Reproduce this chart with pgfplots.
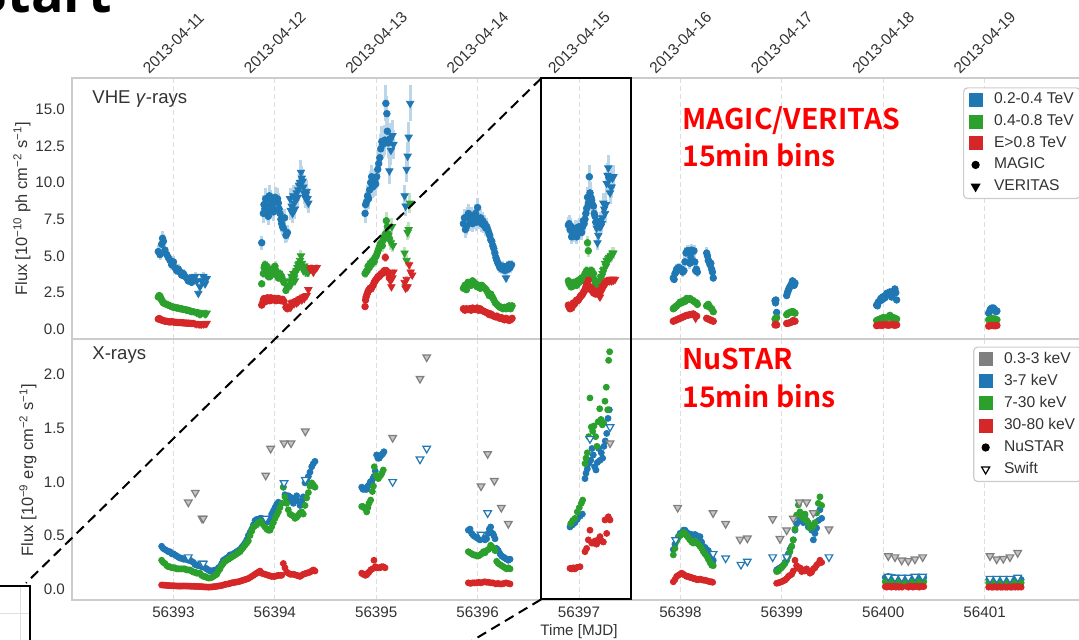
\documentclass[border=0pt]{standalone}
\usepackage{fontspec}
\setmainfont{Liberation Sans}
\newfontfamily\annfont{Noto Sans CJK SC Bold}
\newfontfamily\headfont{Open Sans}
\usepackage{pgfplots}
\usepackage{pgfplotstable}
\pgfplotsset{compat=1.18}

\definecolor{tabblue}{HTML}{1F77B4}
\definecolor{tabgreen}{HTML}{2CA02C}
\definecolor{tabred}{HTML}{D62728}
\definecolor{tabgray}{HTML}{7F7F7F}
\definecolor{framegray}{HTML}{CCCCCC}
\definecolor{txt}{HTML}{333333}
\definecolor{gridgray}{HTML}{DDDDDD}

\newcommand\tickfont{\fontsize{7.6}{9}\selectfont}
\newcommand\legfont{\fontsize{7.8}{9}\selectfont}
\newcommand\yfont{\fontsize{8.2}{10}\selectfont}

% ---------------- VHE gamma rays: MAGIC (circles) ----------------
\pgfplotstableread{
x y
56392.851 5.3
56392.868 5.1
56392.884 5.8
56392.893 6.2
56392.901 6.0
56392.917 5.4
56392.934 5.1
56392.950 4.9
56392.966 4.7
56392.983 4.4
56393.000 4.6
56393.016 4.2
56393.032 4.0
56393.049 4.1
56393.065 3.9
56393.082 3.7
56393.098 3.8
56393.115 3.6
56393.131 3.5
56393.147 3.3
56393.164 3.5
56393.180 3.2
56393.197 3.45
56393.871 5.9
56393.887 7.9
56393.893 8.5
56393.902 8.2
56393.910 8.9
56393.920 8.4
56393.928 8.0
56393.936 7.7
56393.946 9.1
56393.955 8.8
56393.969 8.6
56393.978 8.3
56393.986 8.0
56394.002 9.0
56394.010 8.7
56394.018 8.7
56394.027 8.9
56394.035 8.6
56394.043 8.2
56394.051 7.9
56394.060 7.5
56394.068 7.2
56394.076 7.0
56394.084 6.9
56394.097 7.6
56394.110 6.4
56394.117 6.5
56394.124 6.6
56394.890 7.9
56394.895 8.5
56394.905 8.7
56394.915 9.1
56394.925 8.9
56394.935 9.5
56394.945 10.0
56394.955 10.4
56394.965 9.7
56394.975 9.8
56394.985 10.1
56394.995 9.9
56395.005 10.4
56395.015 10.9
56395.025 11.3
56395.035 11.7
56395.045 12.3
56395.055 12.8
56395.065 12.6
56395.075 12.8
56395.085 12.9
56395.095 15.4
56395.105 14.7
56395.110 13.5
56395.118 12.7
56395.125 12.9
56395.138 13.0
56395.860 7.2
56395.870 7.6
56395.880 6.8
56395.890 7.0
56395.900 7.7
56395.910 7.9
56395.920 7.5
56395.930 7.3
56395.940 7.7
56395.950 7.2
56395.960 7.6
56395.970 7.4
56395.980 7.9
56395.990 7.3
56396.000 8.3
56396.010 7.5
56396.020 7.4
56396.030 7.6
56396.040 7.2
56396.050 7.4
56396.060 7.1
56396.070 7.2
56396.080 6.9
56396.090 7.0
56396.100 6.8
56396.110 6.6
56396.120 6.4
56396.130 6.1
56396.140 6.0
56396.150 5.7
56396.160 5.5
56396.170 5.2
56396.180 4.9
56396.190 4.7
56396.200 4.5
56396.210 4.4
56396.220 4.2
56396.230 4.3
56396.240 4.1
56396.250 4.3
56396.260 4.2
56396.270 4.0
56396.290 4.3
56396.300 4.1
56396.310 4.4
56396.320 4.2
56396.335 4.4
56396.895 7.1
56396.903 7.2
56396.911 6.8
56396.920 7.0
56396.928 6.3
56396.936 6.5
56396.944 6.5
56396.952 6.7
56396.961 6.6
56396.969 6.9
56396.977 6.3
56396.985 6.6
56396.994 6.9
56397.002 7.0
56397.010 6.7
56397.018 6.6
56397.026 6.6
56397.035 7.0
56397.043 7.4
56397.051 7.2
56397.059 7.5
56397.068 7.9
56397.076 8.25
56397.084 9.0
56397.092 8.6
56397.102 10.4
56397.109 9.3
56397.117 9.0
56397.125 8.8
56397.133 8.5
56397.142 8.4
56397.150 7.9
56397.158 7.7
56397.165 7.3
56397.930 3.5
56397.938 3.4
56397.946 3.8
56397.955 3.9
56397.963 4.1
56397.979 4.2
56397.989 4.2
56398.000 4.1
56398.012 4.1
56398.023 3.9
56398.035 4.0
56398.045 4.6
56398.055 5.2
56398.067 5.35
56398.078 5.35
56398.086 5.3
56398.094 4.5
56398.103 4.9
56398.111 5.4
56398.122 5.3
56398.134 5.35
56398.142 4.6
56398.150 4.0
56398.158 4.1
56398.167 3.9
56398.259 5.2
56398.267 5.0
56398.275 4.7
56398.283 4.6
56398.292 4.4
56398.300 4.5
56398.308 4.1
56398.316 3.9
56398.324 3.5
56398.933 1.95
56398.938 1.8
56398.942 2.0
56398.949 1.15
56399.048 2.3
56399.056 2.5
56399.064 2.65
56399.072 2.8
56399.081 2.9
56399.089 3.0
56399.097 3.1
56399.105 3.3
56399.113 3.25
56399.122 3.0
56399.130 3.15
56399.935 1.65
56399.943 1.6
56399.951 1.85
56399.960 1.9
56399.968 1.95
56399.976 2.1
56399.985 2.0
56399.994 2.2
56400.002 2.1
56400.010 2.25
56400.017 2.15
56400.026 2.3
56400.034 2.45
56400.042 2.35
56400.050 2.4
56400.058 2.5
56400.066 2.55
56400.075 2.4
56400.083 2.2
56400.091 2.35
56400.099 2.45
56400.107 2.6
56400.115 2.75
56400.124 2.5
56400.132 2.0
56401.040 1.1
56401.048 1.2
56401.056 1.35
56401.064 1.4
56401.072 1.45
56401.080 1.4
56401.088 1.45
56401.096 1.35
56401.105 1.3
56401.113 1.2
56401.121 1.25
}\vheBM

\pgfplotstableread{
x y
56392.851 2.2
56392.860 2.3
56392.868 2.25
56392.876 2.1
56392.884 2.0
56392.893 1.9
56392.901 1.8
56392.917 1.75
56392.934 1.7
56392.950 1.65
56392.966 1.6
56392.983 1.55
56393.000 1.5
56393.016 1.5
56393.032 1.45
56393.049 1.45
56393.065 1.4
56393.082 1.4
56393.098 1.35
56393.115 1.35
56393.131 1.3
56393.147 1.3
56393.164 1.25
56393.180 1.2
56393.197 1.2
56393.871 3.1
56393.887 3.8
56393.895 4.2
56393.903 4.4
56393.912 4.0
56393.920 4.3
56393.928 3.8
56393.936 3.6
56393.944 3.9
56393.952 3.6
56393.961 4.0
56393.969 4.1
56393.977 3.9
56393.986 3.8
56393.994 4.0
56394.002 4.3
56394.010 4.0
56394.018 3.7
56394.027 3.8
56394.035 3.5
56394.043 3.6
56394.051 3.8
56394.060 3.5
56394.068 3.6
56394.076 3.4
56394.090 3.2
56394.110 2.65
56394.124 2.9
56394.890 3.8
56394.900 3.9
56394.910 4.0
56394.920 4.3
56394.930 4.2
56394.940 4.5
56394.950 4.4
56394.960 4.6
56394.970 4.7
56394.980 4.6
56394.990 4.9
56395.000 5.0
56395.010 5.2
56395.020 5.4
56395.030 5.6
56395.040 5.8
56395.050 5.9
56395.060 5.7
56395.070 6.1
56395.080 6.3
56395.090 6.5
56395.100 7.4
56395.110 7.0
56395.120 6.5
56395.130 6.2
56395.860 2.8
56395.875 3.0
56395.890 2.7
56395.905 3.2
56395.920 3.1
56395.935 3.0
56395.950 3.3
56395.965 3.2
56395.980 3.1
56395.995 2.9
56396.010 3.0
56396.025 2.8
56396.040 3.0
56396.055 2.9
56396.070 2.8
56396.085 2.7
56396.100 2.5
56396.115 2.3
56396.130 2.4
56396.145 2.2
56396.160 2.0
56396.175 1.8
56396.190 1.7
56396.205 1.6
56396.220 1.5
56396.235 1.5
56396.250 1.4
56396.265 1.5
56396.280 1.4
56396.295 1.5
56396.310 1.6
56396.325 1.4
56396.340 1.6
56396.895 3.3
56396.903 3.1
56396.911 3.15
56396.920 2.9
56396.928 2.9
56396.936 3.1
56396.944 3.2
56396.952 3.0
56396.961 3.2
56396.969 3.1
56396.977 3.0
56396.985 3.3
56396.994 3.3
56397.002 3.2
56397.010 3.4
56397.018 3.3
56397.026 3.5
56397.035 3.4
56397.043 3.5
56397.051 3.6
56397.059 3.8
56397.068 3.7
56397.076 4.0
56397.084 5.9
56397.092 5.35
56397.102 3.8
56397.109 3.9
56397.117 4.0
56397.125 4.0
56397.133 3.7
56397.142 3.8
56397.150 3.4
56397.158 3.1
56397.165 3.0
56397.930 1.4
56397.938 1.45
56397.946 1.5
56397.955 1.55
56397.963 1.6
56397.979 1.7
56397.996 1.85
56398.012 1.8
56398.029 1.95
56398.045 1.9
56398.061 2.1
56398.078 2.05
56398.094 2.1
56398.111 2.0
56398.127 1.95
56398.144 1.85
56398.160 1.8
56398.167 1.7
56398.259 1.6
56398.275 1.7
56398.292 1.5
56398.308 1.4
56398.324 1.2
56398.933 0.7
56398.942 0.75
56398.949 0.8
56399.048 1.0
56399.056 1.05
56399.064 1.1
56399.081 1.15
56399.097 1.2
56399.113 1.2
56399.130 1.1
56399.935 0.6
56399.951 0.65
56399.968 0.7
56399.985 0.75
56400.002 0.8
56400.017 0.75
56400.034 0.75
56400.050 0.85
56400.066 0.95
56400.083 0.8
56400.099 0.8
56400.115 0.75
56400.132 0.7
56401.040 0.65
56401.056 0.7
56401.072 0.75
56401.088 0.7
56401.105 0.7
56401.121 0.65
}\vheGM

\pgfplotstableread{
x y
56392.851 0.7
56392.860 0.73
56392.868 0.7
56392.884 0.62
56392.901 0.6
56392.917 0.55
56392.934 0.55
56392.950 0.52
56392.966 0.5
56392.983 0.52
56393.000 0.5
56393.016 0.48
56393.032 0.47
56393.049 0.46
56393.065 0.46
56393.082 0.45
56393.098 0.44
56393.115 0.43
56393.131 0.42
56393.147 0.42
56393.164 0.41
56393.180 0.4
56393.197 0.4
56393.871 1.65
56393.880 1.8
56393.887 2.0
56393.895 2.1
56393.903 2.0
56393.912 1.9
56393.920 2.1
56393.928 2.15
56393.936 2.0
56393.944 2.1
56393.952 1.95
56393.961 2.15
56393.969 2.0
56393.977 2.1
56393.986 2.05
56393.994 2.1
56394.002 2.1
56394.010 1.95
56394.018 2.05
56394.027 2.0
56394.035 2.1
56394.043 2.0
56394.051 2.05
56394.060 1.95
56394.068 2.0
56394.076 2.05
56394.090 1.9
56394.110 1.5
56394.124 1.4
56394.890 1.55
56394.895 2.0
56394.900 2.2
56394.910 2.4
56394.920 2.6
56394.930 2.7
56394.940 2.8
56394.950 2.75
56394.960 2.9
56394.970 3.0
56394.980 3.2
56394.990 3.3
56395.000 3.4
56395.010 3.5
56395.020 3.6
56395.030 3.6
56395.040 3.7
56395.050 3.8
56395.060 3.8
56395.070 3.9
56395.080 4.0
56395.090 4.9
56395.100 4.0
56395.110 3.9
56395.120 3.8
56395.130 3.5
56395.860 1.4
56395.875 1.3
56395.890 1.4
56395.905 1.35
56395.920 1.4
56395.935 1.3
56395.950 1.45
56395.965 1.4
56395.980 1.35
56395.995 1.45
56396.010 1.3
56396.025 1.4
56396.040 1.3
56396.055 1.25
56396.070 1.2
56396.085 1.15
56396.100 1.1
56396.115 1.0
56396.130 1.05
56396.145 0.95
56396.160 0.9
56396.175 0.85
56396.190 0.9
56396.205 0.8
56396.220 0.75
56396.235 0.8
56396.250 0.7
56396.265 0.65
56396.280 0.75
56396.295 0.7
56396.310 0.6
56396.325 0.65
56396.340 0.75
56396.895 1.65
56396.903 1.5
56396.911 1.4
56396.920 1.5
56396.928 1.45
56396.936 1.6
56396.944 1.8
56396.952 1.7
56396.961 1.8
56396.969 1.9
56396.977 2.0
56396.985 1.95
56396.994 2.0
56397.002 2.1
56397.010 2.2
56397.018 2.3
56397.026 2.3
56397.035 2.4
56397.043 2.5
56397.051 2.6
56397.059 2.7
56397.068 2.9
56397.076 3.1
56397.084 3.0
56397.092 3.35
56397.102 2.9
56397.109 2.85
56397.117 2.7
56397.125 2.8
56397.133 2.6
56397.142 2.5
56397.150 2.45
56397.158 2.6
56397.165 2.4
56397.930 0.55
56397.946 0.6
56397.963 0.65
56397.979 0.7
56397.996 0.75
56398.012 0.8
56398.029 0.85
56398.045 0.9
56398.061 0.95
56398.078 0.97
56398.094 1.0
56398.111 1.02
56398.127 1.05
56398.144 0.95
56398.160 0.9
56398.259 0.75
56398.275 0.7
56398.292 0.65
56398.308 0.6
56398.324 0.55
56398.933 0.3
56398.942 0.35
56398.949 0.3
56399.048 0.4
56399.064 0.42
56399.081 0.45
56399.097 0.5
56399.113 0.6
56399.130 0.55
56399.935 0.25
56399.951 0.28
56399.968 0.3
56399.985 0.27
56400.002 0.3
56400.017 0.32
56400.034 0.3
56400.050 0.28
56400.066 0.3
56400.083 0.33
56400.099 0.3
56400.115 0.28
56400.132 0.3
56401.040 0.22
56401.056 0.25
56401.072 0.27
56401.088 0.25
56401.105 0.24
56401.121 0.26
}\vheRM

% ---------------- VHE gamma rays: VERITAS (triangles) ----------------
\pgfplotstableread{
x y
56393.214 3.6
56393.230 3.3
56393.246 2.45
56393.262 2.9
56393.279 3.3
56393.295 3.6
56393.312 3.1
56393.328 3.45
56394.150 8.9
56394.158 8.1
56394.166 8.4
56394.175 7.9
56394.183 9.1
56394.191 8.6
56394.199 8.2
56394.208 8.8
56394.216 9.3
56394.224 9.0
56394.232 9.5
56394.241 9.8
56394.249 10.0
56394.258 10.7
56394.266 10.3
56394.275 10.1
56394.282 9.7
56394.288 9.3
56394.298 9.0
56394.306 9.2
56394.314 9.4
56394.322 8.9
56394.331 8.6
56395.130 10.8
56395.145 12.2
56395.160 13.2
56395.170 12.6
56395.280 9.1
56395.290 8.4
56395.300 10.9
56395.310 11.8
56395.320 13.1
56395.335 15.4
56396.280 3.5
56397.174 6.9
56397.182 5.9
56397.191 6.4
56397.199 7.0
56397.207 7.4
56397.215 7.0
56397.224 7.2
56397.232 7.6
56397.240 8.6
56397.248 8.2
56397.257 7.9
56397.265 8.5
56397.273 9.95
56397.281 10.5
56397.289 11.0
56397.298 10.2
56397.306 9.3
56397.314 9.7
56397.322 9.7
56397.330 10.3
56397.339 10.4
}\vheBV

\pgfplotstableread{
x y
56393.214 1.2
56393.230 1.15
56393.246 1.1
56393.262 1.05
56393.279 1.1
56393.295 1.15
56393.312 1.05
56393.328 1.1
56394.150 3.3
56394.158 3.0
56394.166 3.6
56394.175 3.4
56394.183 3.8
56394.191 3.5
56394.199 3.3
56394.208 3.9
56394.216 4.0
56394.224 4.2
56394.232 4.4
56394.241 4.5
56394.249 4.7
56394.258 5.0
56394.266 4.5
56394.275 4.2
56394.282 4.0
56394.290 4.3
56394.298 4.1
56394.306 3.9
56394.314 4.2
56394.322 3.9
56394.331 3.9
56395.145 5.9
56395.155 7.0
56395.165 5.7
56395.280 5.2
56395.290 2.9
56395.300 4.7
56395.310 6.6
56395.320 6.8
56395.333 8.6
56397.174 2.75
56397.182 2.8
56397.191 3.0
56397.199 3.3
56397.207 3.3
56397.215 3.5
56397.224 3.6
56397.232 3.8
56397.240 4.0
56397.248 4.1
56397.257 4.5
56397.265 4.3
56397.273 4.7
56397.281 4.6
56397.289 4.8
56397.298 4.9
56397.306 4.9
56397.314 5.0
56397.322 5.0
56397.330 5.2
56397.339 5.2
}\vheGV

\pgfplotstableread{
x y
56393.214 0.4
56393.230 0.38
56393.246 0.38
56393.262 0.35
56393.279 0.36
56393.295 0.37
56393.312 0.38
56393.328 0.4
56394.150 1.6
56394.158 1.5
56394.166 1.8
56394.175 1.7
56394.183 1.85
56394.191 1.75
56394.199 1.85
56394.208 1.9
56394.216 1.8
56394.224 1.95
56394.232 1.9
56394.241 2.0
56394.249 2.05
56394.258 2.1
56394.266 2.0
56394.275 2.15
56394.282 2.2
56394.290 2.1
56394.298 2.25
56394.314 2.3
56394.331 2.7
56394.350 4.1
56394.363 4.2
56394.380 3.9
56394.396 4.1
56394.413 4.2
56395.140 3.3
56395.150 2.9
56395.160 3.5
56395.170 3.9
56395.280 3.2
56395.290 2.8
56395.300 3.4
56395.310 2.9
56395.325 4.4
56395.340 3.9
56395.355 3.7
56397.174 2.6
56397.182 2.5
56397.191 2.45
56397.199 2.3
56397.207 2.2
56397.215 2.5
56397.224 2.7
56397.232 2.9
56397.240 2.8
56397.248 3.0
56397.257 3.1
56397.265 3.2
56397.273 3.2
56397.281 3.3
56397.289 3.35
56397.298 3.3
56397.306 3.4
56397.314 3.35
56397.322 3.3
56397.330 3.4
56397.339 3.35
56397.355 3.4
56398.150 0.75
}\vheRV

% ---------------- X-rays: NuSTAR ----------------
\pgfplotstableread{
x y
56392.884 0.40
56392.900 0.38
56392.917 0.37
56392.935 0.36
56392.950 0.35
56392.966 0.35
56392.985 0.33
56393.000 0.33
56393.016 0.32
56393.032 0.31
56393.049 0.30
56393.065 0.29
56393.082 0.29
56393.098 0.28
56393.114 0.28
56393.131 0.28
56393.147 0.27
56393.164 0.27
56393.180 0.26
56393.197 0.25
56393.213 0.23
56393.229 0.225
56393.246 0.22
56393.262 0.22
56393.279 0.21
56393.295 0.21
56393.312 0.20
56393.328 0.19
56393.345 0.18
56393.361 0.17
56393.378 0.17
56393.394 0.175
56393.411 0.18
56393.427 0.18
56393.444 0.20
56393.460 0.21
56393.476 0.24
56393.492 0.27
56393.509 0.28
56393.525 0.29
56393.542 0.30
56393.558 0.32
56393.575 0.32
56393.591 0.33
56393.608 0.34
56393.624 0.35
56393.640 0.36
56393.657 0.37
56393.673 0.39
56393.690 0.41
56393.706 0.43
56393.723 0.46
56393.739 0.50
56393.756 0.53
56393.772 0.56
56393.789 0.60
56393.805 0.64
56393.821 0.65
56393.838 0.65
56393.854 0.66
56393.870 0.66
56393.887 0.65
56393.903 0.64
56393.920 0.63
56393.936 0.63
56393.953 0.66
56393.969 0.70
56393.986 0.73
56394.002 0.76
56394.018 0.79
56394.035 0.81
56394.051 0.80
56394.068 0.80
56394.084 0.95
56394.100 0.88
56394.117 0.84
56394.133 0.87
56394.150 0.86
56394.166 0.83
56394.183 0.80
56394.199 0.85
56394.216 0.87
56394.232 0.82
56394.249 0.78
56394.265 0.82
56394.281 0.86
56394.298 0.99
56394.314 1.02
56394.331 1.05
56394.347 1.09
56394.364 1.14
56394.380 1.17
56394.396 1.19
56394.857 0.95
56394.870 0.93
56394.880 0.94
56394.893 0.93
56394.906 0.93
56394.918 0.96
56394.929 0.97
56394.942 1.00
56394.955 1.00
56394.967 1.03
56394.978 1.05
56394.991 1.10
56395.004 1.25
56395.017 1.22
56395.030 1.22
56395.041 1.24
56395.053 1.25
56395.064 1.26
56395.076 1.28
56395.909 0.55
56395.925 0.56
56395.942 0.52
56395.958 0.50
56395.974 0.49
56395.991 0.48
56396.008 0.47
56396.024 0.46
56396.040 0.47
56396.057 0.48
56396.073 0.46
56396.089 0.47
56396.105 0.52
56396.116 0.56
56396.129 0.58
56396.149 0.52
56396.160 0.50
56396.172 0.47
56396.188 0.38
56396.204 0.36
56396.221 0.33
56396.237 0.31
56396.254 0.30
56396.270 0.29
56396.287 0.28
56396.303 0.27
56396.320 0.28
56396.911 0.58
56396.937 0.60
56396.960 0.62
56396.983 0.65
56397.010 0.68
56397.033 0.70
56397.059 1.03
56397.069 1.08
56397.082 1.12
56397.098 1.17
56397.115 1.20
56397.128 1.31
56397.141 1.25
56397.154 1.14
56397.167 1.11
56397.181 1.18
56397.194 1.31
56397.207 1.20
56397.220 1.27
56397.233 1.22
56397.246 1.33
56397.259 1.38
56397.273 1.45
56397.286 1.59
56397.299 1.67
56397.930 0.37
56397.946 0.42
56397.963 0.46
56397.979 0.49
56397.996 0.52
56398.012 0.52
56398.029 0.55
56398.045 0.55
56398.061 0.53
56398.078 0.52
56398.094 0.50
56398.111 0.51
56398.127 0.49
56398.144 0.51
56398.160 0.50
56398.177 0.48
56398.193 0.49
56398.209 0.44
56398.226 0.40
56398.242 0.39
56398.259 0.37
56398.275 0.36
56398.292 0.33
56398.308 0.31
56398.324 0.27
56398.949 0.18
56398.965 0.19
56398.982 0.20
56398.998 0.21
56399.015 0.225
56399.031 0.25
56399.048 0.30
56399.064 0.33
56399.080 0.37
56399.097 0.40
56399.113 0.46
56399.130 0.55
56399.146 0.61
56399.163 0.675
56399.179 0.64
56399.196 0.66
56399.212 0.62
56399.228 0.69
56399.245 0.64
56399.261 0.58
56399.278 0.60
56399.294 0.55
56399.311 0.46
56399.327 0.52
56399.343 0.57
56399.360 0.64
56399.376 0.74
56399.393 0.66
56400.020 0.11
56400.035 0.10
56400.050 0.12
56400.065 0.10
56400.080 0.09
56400.095 0.10
56400.110 0.11
56400.125 0.09
56400.140 0.10
56400.155 0.09
56400.170 0.10
56400.185 0.09
56400.235 0.10
56400.250 0.09
56400.265 0.10
56400.280 0.11
56400.295 0.10
56400.310 0.09
56400.325 0.10
56400.340 0.11
56400.355 0.10
56400.370 0.11
56400.385 0.10
56400.400 0.11
56401.040 0.09
56401.055 0.08
56401.070 0.09
56401.085 0.085
56401.100 0.08
56401.115 0.09
56401.130 0.08
56401.145 0.085
56401.160 0.09
56401.175 0.08
56401.190 0.085
56401.205 0.09
56401.225 0.08
56401.240 0.09
56401.255 0.085
56401.270 0.09
56401.285 0.08
56401.300 0.09
56401.315 0.10
56401.330 0.09
56401.345 0.10
56401.360 0.09
}\xNuB

\pgfplotstableread{
x y
56392.884 0.27
56392.900 0.25
56392.917 0.24
56392.935 0.22
56392.950 0.21
56392.966 0.21
56392.985 0.20
56393.000 0.20
56393.016 0.20
56393.032 0.19
56393.049 0.19
56393.065 0.19
56393.082 0.19
56393.098 0.19
56393.114 0.19
56393.131 0.18
56393.147 0.18
56393.164 0.18
56393.180 0.17
56393.197 0.16
56393.213 0.16
56393.229 0.15
56393.246 0.15
56393.262 0.15
56393.279 0.13
56393.295 0.12
56393.312 0.12
56393.328 0.11
56393.345 0.105
56393.361 0.105
56393.378 0.11
56393.394 0.12
56393.411 0.13
56393.427 0.14
56393.444 0.17
56393.460 0.19
56393.476 0.22
56393.492 0.24
56393.509 0.26
56393.525 0.27
56393.542 0.28
56393.558 0.29
56393.575 0.30
56393.591 0.31
56393.608 0.32
56393.624 0.33
56393.640 0.34
56393.657 0.35
56393.673 0.37
56393.690 0.39
56393.706 0.41
56393.723 0.43
56393.739 0.45
56393.756 0.50
56393.772 0.54
56393.789 0.58
56393.805 0.59
56393.821 0.60
56393.838 0.62
56393.854 0.63
56393.870 0.63
56393.887 0.60
56393.903 0.58
56393.920 0.56
56393.936 0.55
56393.953 0.55
56393.969 0.58
56393.986 0.62
56394.002 0.66
56394.018 0.69
56394.035 0.72
56394.051 0.76
56394.068 0.80
56394.084 0.95
56394.100 0.86
56394.117 0.80
56394.133 0.74
56394.150 0.70
56394.166 0.69
56394.183 0.68
56394.199 0.66
56394.216 0.67
56394.232 0.69
56394.249 0.71
56394.265 0.72
56394.281 0.70
56394.298 0.78
56394.314 0.85
56394.331 0.90
56394.347 0.96
56394.364 0.99
56394.380 0.97
56394.396 0.95
56394.857 0.77
56394.870 0.77
56394.880 0.76
56394.893 0.75
56394.906 0.72
56394.918 0.76
56394.929 0.80
56394.945 0.83
56394.962 0.91
56394.972 0.96
56394.981 1.14
56394.998 1.06
56395.010 1.04
56395.021 1.03
56395.033 1.05
56395.044 1.06
56395.056 1.08
56395.070 1.11
56395.909 0.35
56395.925 0.34
56395.942 0.33
56395.958 0.32
56395.974 0.32
56395.991 0.31
56396.008 0.31
56396.024 0.32
56396.040 0.33
56396.057 0.35
56396.073 0.34
56396.089 0.36
56396.105 0.37
56396.116 0.38
56396.129 0.41
56396.149 0.39
56396.160 0.38
56396.172 0.36
56396.188 0.26
56396.204 0.24
56396.221 0.23
56396.237 0.22
56396.254 0.21
56396.270 0.20
56396.287 0.19
56396.303 0.20
56396.320 0.19
56396.918 0.61
56396.937 0.64
56396.960 0.66
56396.983 0.72
56397.003 0.76
56397.023 0.80
56397.036 0.83
56397.059 1.17
56397.069 1.22
56397.082 1.27
56397.095 1.42
56397.108 1.78
56397.121 1.51
56397.135 1.47
56397.148 1.52
56397.164 1.42
56397.177 1.33
56397.190 1.56
56397.204 1.68
56397.217 1.58
56397.230 1.53
56397.243 1.55
56397.256 1.75
56397.269 1.88
56397.283 1.67
56397.292 2.13
56397.302 2.21
56397.930 0.32
56397.946 0.38
56397.963 0.45
56397.979 0.48
56397.996 0.50
56398.012 0.51
56398.029 0.53
56398.045 0.52
56398.061 0.50
56398.078 0.48
56398.094 0.46
56398.111 0.44
56398.127 0.43
56398.144 0.45
56398.160 0.43
56398.177 0.42
56398.193 0.40
56398.209 0.38
56398.226 0.35
56398.242 0.33
56398.259 0.31
56398.275 0.28
56398.292 0.25
56398.308 0.225
56398.324 0.22
56398.949 0.165
56398.965 0.17
56398.982 0.19
56398.998 0.20
56399.015 0.22
56399.031 0.24
56399.048 0.27
56399.064 0.31
56399.080 0.35
56399.097 0.40
56399.113 0.46
56399.130 0.56
56399.146 0.69
56399.163 0.785
56399.179 0.72
56399.196 0.68
56399.212 0.66
56399.228 0.70
56399.245 0.64
56399.261 0.62
56399.278 0.57
56399.294 0.58
56399.311 0.59
56399.327 0.62
56399.343 0.71
56399.360 0.80
56399.376 0.86
56399.393 0.78
56400.020 0.07
56400.035 0.065
56400.050 0.075
56400.065 0.07
56400.080 0.06
56400.095 0.065
56400.110 0.07
56400.125 0.06
56400.140 0.065
56400.155 0.06
56400.170 0.065
56400.185 0.06
56400.235 0.065
56400.250 0.06
56400.265 0.07
56400.280 0.065
56400.295 0.07
56400.310 0.06
56400.325 0.065
56400.340 0.07
56400.355 0.065
56400.370 0.07
56400.385 0.065
56400.400 0.07
56401.040 0.06
56401.055 0.055
56401.070 0.06
56401.085 0.06
56401.100 0.055
56401.115 0.06
56401.130 0.055
56401.145 0.06
56401.160 0.06
56401.175 0.055
56401.190 0.06
56401.205 0.06
56401.225 0.055
56401.240 0.06
56401.255 0.06
56401.270 0.06
56401.285 0.055
56401.300 0.06
56401.315 0.065
56401.330 0.06
56401.345 0.065
56401.360 0.06
}\xNuG

\pgfplotstableread{
x y
56392.884 0.04
56392.900 0.039
56392.917 0.038
56392.935 0.036
56392.950 0.035
56392.966 0.034
56392.985 0.033
56393.000 0.033
56393.016 0.032
56393.032 0.031
56393.049 0.03
56393.065 0.03
56393.082 0.03
56393.098 0.031
56393.114 0.031
56393.131 0.03
56393.147 0.03
56393.164 0.029
56393.180 0.028
56393.197 0.028
56393.213 0.027
56393.229 0.027
56393.246 0.026
56393.262 0.025
56393.279 0.025
56393.295 0.023
56393.312 0.022
56393.328 0.021
56393.345 0.02
56393.361 0.021
56393.378 0.022
56393.394 0.024
56393.411 0.025
56393.427 0.028
56393.444 0.03
56393.460 0.033
56393.476 0.035
56393.492 0.04
56393.509 0.045
56393.525 0.048
56393.542 0.05
56393.558 0.055
56393.575 0.06
56393.591 0.062
56393.608 0.065
56393.624 0.068
56393.640 0.07
56393.657 0.075
56393.673 0.08
56393.690 0.085
56393.706 0.09
56393.723 0.095
56393.739 0.10
56393.756 0.11
56393.772 0.12
56393.789 0.13
56393.805 0.14
56393.821 0.15
56393.838 0.16
56393.854 0.17
56393.870 0.15
56393.887 0.145
56393.903 0.14
56393.920 0.135
56393.936 0.13
56393.953 0.125
56393.969 0.12
56393.986 0.12
56394.002 0.12
56394.018 0.125
56394.035 0.13
56394.051 0.13
56394.068 0.13
56394.084 0.24
56394.100 0.20
56394.117 0.16
56394.133 0.15
56394.150 0.14
56394.166 0.14
56394.183 0.14
56394.199 0.135
56394.216 0.13
56394.232 0.125
56394.249 0.12
56394.265 0.13
56394.281 0.14
56394.298 0.145
56394.314 0.15
56394.331 0.155
56394.347 0.16
56394.364 0.17
56394.380 0.18
56394.396 0.17
56394.857 0.15
56394.870 0.14
56394.880 0.14
56394.893 0.13
56394.906 0.135
56394.918 0.15
56394.929 0.16
56394.945 0.18
56394.962 0.19
56394.978 0.27
56394.991 0.21
56395.004 0.20
56395.020 0.20
56395.036 0.20
56395.053 0.21
56395.070 0.21
56395.087 0.20
56395.909 0.06
56395.930 0.055
56395.950 0.06
56395.970 0.06
56395.990 0.06
56396.010 0.065
56396.030 0.06
56396.050 0.065
56396.070 0.07
56396.090 0.065
56396.110 0.065
56396.130 0.06
56396.150 0.06
56396.180 0.05
56396.200 0.055
56396.220 0.05
56396.240 0.05
56396.260 0.055
56396.280 0.06
56396.300 0.055
56396.320 0.05
56396.911 0.195
56396.927 0.19
56396.944 0.20
56396.960 0.19
56396.983 0.205
56397.010 0.21
56397.059 0.35
56397.075 0.38
56397.092 0.46
56397.108 0.55
56397.125 0.43
56397.141 0.43
56397.158 0.45
56397.174 0.42
56397.190 0.46
56397.207 0.49
56397.223 0.45
56397.240 0.44
56397.256 0.645
56397.273 0.52
56397.289 0.675
56397.306 0.645
56397.930 0.07
56397.946 0.09
56397.963 0.12
56397.979 0.13
56397.996 0.14
56398.012 0.15
56398.029 0.14
56398.045 0.13
56398.061 0.12
56398.078 0.12
56398.094 0.11
56398.111 0.11
56398.127 0.10
56398.144 0.10
56398.160 0.09
56398.177 0.09
56398.193 0.095
56398.209 0.09
56398.226 0.085
56398.242 0.085
56398.259 0.08
56398.275 0.075
56398.292 0.07
56398.308 0.07
56398.318 0.065
56398.949 0.056
56398.965 0.06
56398.982 0.065
56398.998 0.07
56399.015 0.08
56399.031 0.085
56399.048 0.10
56399.064 0.12
56399.080 0.13
56399.097 0.14
56399.113 0.17
56399.130 0.27
56399.146 0.22
56399.163 0.195
56399.179 0.20
56399.196 0.165
56399.212 0.18
56399.228 0.17
56399.245 0.19
56399.261 0.17
56399.278 0.15
56399.294 0.16
56399.311 0.19
56399.327 0.20
56399.343 0.225
56399.360 0.24
56399.376 0.27
56399.393 0.25
56400.020 0.025
56400.035 0.02
56400.050 0.03
56400.065 0.025
56400.080 0.02
56400.095 0.025
56400.110 0.03
56400.125 0.02
56400.140 0.025
56400.155 0.02
56400.170 0.025
56400.185 0.02
56400.235 0.025
56400.250 0.02
56400.265 0.03
56400.280 0.025
56400.295 0.02
56400.310 0.025
56400.325 0.03
56400.340 0.025
56400.355 0.02
56400.370 0.025
56400.385 0.03
56400.400 0.025
56401.040 0.02
56401.055 0.025
56401.070 0.02
56401.085 0.02
56401.100 0.025
56401.115 0.02
56401.130 0.02
56401.145 0.025
56401.160 0.02
56401.175 0.02
56401.190 0.025
56401.205 0.02
56401.225 0.02
56401.240 0.025
56401.255 0.02
56401.270 0.02
56401.285 0.025
56401.300 0.02
56401.315 0.025
56401.330 0.02
56401.345 0.025
56401.360 0.02
}\xNuR

% ---------------- X-rays: Swift (open triangles) ----------------
\pgfplotstableread{
x y
56393.147 0.81
56393.216 0.90
56393.282 0.66
56393.295 0.66
56393.910 1.06
56393.959 1.31
56394.091 1.36
56394.160 1.36
56394.301 1.47
56395.162 1.41
56395.432 1.96
56395.498 2.16
56396.034 0.96
56396.099 1.26
56396.165 1.01
56396.234 0.76
56396.303 0.61
56397.306 1.36
56397.973 0.76
56398.322 0.71
56398.446 0.61
56398.588 0.465
56398.660 0.475
56398.910 0.655
56398.982 0.47
56399.048 0.55
56399.113 0.66
56399.173 0.81
56399.245 0.81
56399.311 0.71
56399.465 0.56
56400.050 0.31
56400.116 0.30
56400.182 0.27
56400.247 0.265
56400.313 0.28
56400.389 0.30
56401.053 0.31
56401.119 0.28
56401.184 0.285
56401.250 0.30
56401.326 0.34
}\xSwG

\pgfplotstableread{
x y
56393.147 0.30
56393.282 0.24
56393.295 0.24
56393.910 0.66
56394.091 0.99
56394.301 1.02
56395.162 1.00
56395.432 1.21
56395.498 1.31
56396.034 0.51
56396.099 0.71
56397.108 1.40
56397.306 1.51
56397.953 0.46
56398.322 0.33
56398.446 0.29
56398.597 0.23
56398.660 0.26
56398.910 0.30
56399.048 0.30
56399.465 0.30
56400.050 0.12
56400.116 0.11
56400.182 0.11
56400.247 0.11
56400.313 0.12
56400.389 0.12
56401.053 0.10
56401.119 0.10
56401.184 0.10
56401.250 0.10
56401.326 0.11
}\xSwB

\pgfplotsset{
  panel/.style={
    scale only axis, width=507pt,
    xmin=56392, xmax=56402,
    scaled x ticks=false, scaled y ticks=false,
    axis line style={framegray, line width=0.9pt},
    major tick length=0pt, tick style={draw=none},
    xtick={56393,56394,56395,56396,56397,56398,56399,56400,56401},
    xmajorgrids, ymajorgrids=false,
    major grid style={gridgray, dash pattern=on 2.5pt off 1.5pt, line width=0.5pt},
    ticklabel style={font=\tickfont, text=txt},
    clip=false,
    legend cell align=left,
    legend image code/.code={\path[draw=none, fill=none] (-3.2pt,-3.2pt) rectangle (3.2pt,3.2pt); \draw[##1] plot coordinates {(0pt,0pt)};},
  },
  leg/.style={draw=framegray, fill=white, rounded corners=2pt, line width=0.6pt,
    font=\legfont, text=txt, row sep=2.9pt, inner xsep=2.8pt, inner ysep=2pt,
    nodes={inner sep=0.5pt},
    /tikz/every odd column/.append style={column sep=5.5pt}},
  magic/.style={only marks, mark=*, mark size=1.65pt, color=#1},
  veritas/.style={only marks, mark=triangle*, mark size=2.1pt, color=#1, mark options={rotate=180}},
  nustar/.style={only marks, mark=*, mark size=1.5pt, color=#1},
  errs/.style 2 args={error bars/.cd, y dir=both, y fixed relative=#1, error mark=none,
    error bar style={#2, line width=1.5pt}},
}

\begin{document}
\begin{tikzpicture}
\useasboundingbox (0pt,0pt) rectangle (539.5pt,320pt);
\clip (0pt,0pt) rectangle (539.5pt,320pt);

% ---------- upper panel: VHE gamma rays ----------
\begin{axis}[panel, at={(36pt,150.35pt)}, anchor=south west, height=130.5pt,
  ymin=-0.68, ymax=17.11,
  ytick={0,2.5,5,7.5,10,12.5,15},
  yticklabels={0.0,2.5,5.0,7.5,10.0,12.5,15.0},
  xticklabels=\empty,
  ylabel={Flux [10\textsuperscript{−10} ph cm\textsuperscript{−2} s\textsuperscript{−1}]},
  every axis y label/.style={at={(rel axis cs:-0.0493,0.5)}, rotate=90, anchor=center, font=\yfont, text=txt},
  legend style={leg, at={(0.8787,0.9655)}, anchor=north west},
]
\addplot[magic=tabblue, forget plot, errs={0.08}{tabblue!30}] table {\vheBM};
\addplot[veritas=tabblue, forget plot, errs={0.08}{tabblue!30}] table {\vheBV};
\addplot[magic=tabgreen, forget plot, errs={0.08}{tabgreen!30}] table {\vheGM};
\addplot[veritas=tabgreen, forget plot, errs={0.08}{tabgreen!30}] table {\vheGV};
\addplot[magic=tabred, forget plot, errs={0.06}{tabred!30}] table {\vheRM};
\addplot[veritas=tabred, forget plot, errs={0.06}{tabred!30}] table {\vheRV};

\addlegendimage{only marks, mark=square*, mark size=3.2pt, tabblue}
\addlegendentry{0.2-0.4 TeV}
\addlegendimage{only marks, mark=square*, mark size=3.2pt, tabgreen}
\addlegendentry{0.4-0.8 TeV}
\addlegendimage{only marks, mark=square*, mark size=3.2pt, tabred}
\addlegendentry{E>0.8 TeV}
\addlegendimage{only marks, mark=*, mark size=1.75pt, black}
\addlegendentry{MAGIC}
\addlegendimage{only marks, mark=triangle*, mark size=2.3pt, mark options={rotate=180}, black}
\addlegendentry{VERITAS}

\node[anchor=base west, inner sep=0pt, font=\fontsize{9.3}{11}\selectfont, text=txt]
  at (rel axis cs:0.0197,0.9015) {VHE \textit{γ}-rays};
\end{axis}

% ---------- lower panel: X-rays ----------
\begin{axis}[panel, at={(36pt,20pt)}, anchor=south west, height=130.25pt,
  ymin=-0.0995, ymax=2.324,
  ytick={0,0.5,1,1.5,2},
  yticklabels={0.0,0.5,1.0,1.5,2.0},
  xticklabels={56393,56394,56395,56396,56397,56398,56399,56400,56401},
  xlabel={Time [MJD]},
  every axis x label/.style={at={(rel axis cs:0.5,-0.123)}, anchor=center, font=\tickfont, text=txt},
  ylabel={Flux [10\textsuperscript{−9} erg cm\textsuperscript{−2} s\textsuperscript{−1}]},
  every axis y label/.style={at={(rel axis cs:-0.0434,0.5)}, rotate=90, anchor=center, font=\yfont, text=txt},
  legend style={leg, at={(0.8886,0.973)}, anchor=north west},
]
\addplot[nustar=tabblue, forget plot] table {\xNuB};
\addplot[nustar=tabgreen, forget plot] table {\xNuG};
\addplot[nustar=tabred, forget plot] table {\xNuR};
\addplot[only marks, mark=triangle*, mark size=2.2pt, forget plot,
  mark options={rotate=180, draw=tabgray, fill=tabgray!45, line width=0.6pt}] table {\xSwG};
\addplot[only marks, mark=triangle*, mark size=2.2pt, forget plot,
  mark options={rotate=180, draw=tabblue, fill=white, line width=0.6pt}] table {\xSwB};

\addlegendimage{only marks, mark=square*, mark size=3.2pt, tabgray}
\addlegendentry{0.3-3 keV}
\addlegendimage{only marks, mark=square*, mark size=3.2pt, tabblue}
\addlegendentry{3-7 keV}
\addlegendimage{only marks, mark=square*, mark size=3.2pt, tabgreen}
\addlegendentry{7-30 keV}
\addlegendimage{only marks, mark=square*, mark size=3.2pt, tabred}
\addlegendentry{30-80 keV}
\addlegendimage{only marks, mark=*, mark size=1.75pt, black}
\addlegendentry{NuSTAR}
\addlegendimage{only marks, mark=triangle*, mark size=2.3pt, mark options={rotate=180, draw=black, fill=white, line width=0.6pt}}
\addlegendentry{Swift}

\node[anchor=base west, inner sep=0pt, font=\fontsize{9.3}{11}\selectfont, text=txt]
  at (rel axis cs:0.0197,0.9213) {X-rays};
\end{axis}

% calendar dates along the top
\foreach \k in {1,...,9}{
  \node[rotate=45, font=\fontsize{7.8}{9}\selectfont, text=txt]
    at ({36pt+50.7pt*\k},298.5pt) {2013-04-1\k};
}

% zoom frame around the night of 2013-04-15 and guide lines
\draw[black, line width=1pt] (270.5pt,20.25pt) rectangle (315.5pt,280.75pt);
\draw[black, line width=1pt, dash pattern=on 5pt off 3pt] (270.5pt,280.75pt) -- (13pt,28.5pt);
\draw[black, line width=1pt, dash pattern=on 5pt off 3pt] (270.5pt,20.25pt) -- (220pt,-10pt);

% corner of the neighbouring inset
\draw[gray!25, line width=0.4pt] (10pt,-2.5pt) -- (10pt,27pt);
\draw[gray!25, line width=0.4pt] (-2.5pt,13.5pt) -- (15pt,13.5pt);
\draw[black, line width=0.8pt] (-2.5pt,-2.5pt) rectangle (15pt,27pt);

% slide heading
\node[anchor=base east, inner sep=0pt, font=\headfont\bfseries\fontsize{27}{27}\selectfont] at (56pt,313.5pt) {Start};

% annotations
\node[anchor=base west, inner sep=0pt, text=red, font=\annfont\fontsize{14.2}{17}\selectfont] at (341pt,255pt) {MAGIC/VERITAS};
\node[anchor=base west, inner sep=0pt, text=red, font=\annfont\fontsize{14.2}{17}\selectfont] at (341pt,236.7pt) {15min bins};
\node[anchor=base west, inner sep=0pt, text=red, font=\annfont\fontsize{14.2}{17}\selectfont] at (341pt,135.4pt) {NuSTAR};
\node[anchor=base west, inner sep=0pt, text=red, font=\annfont\fontsize{14.2}{17}\selectfont] at (341pt,116.4pt) {15min bins};
\end{tikzpicture}
\end{document}
